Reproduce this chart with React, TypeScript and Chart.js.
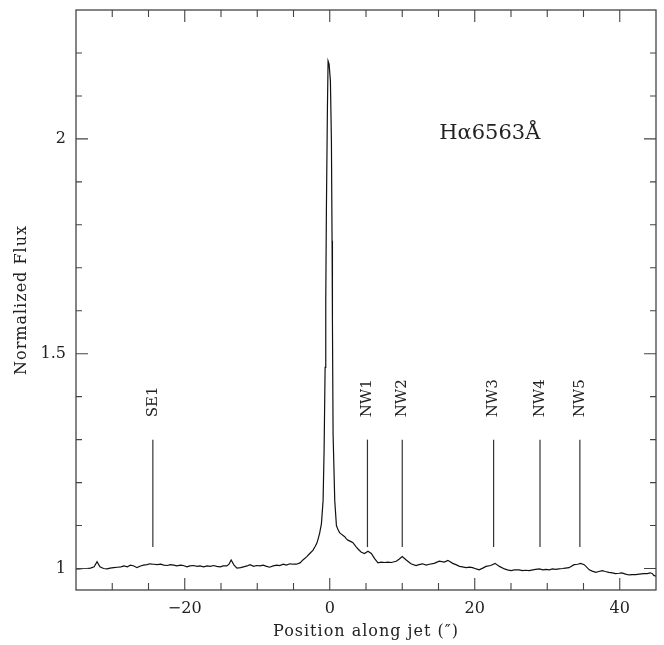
import React, { useEffect, useRef } from "react";
import { Chart, registerables } from "chart.js";

Chart.register(...registerables);

// Position along jet (arcsec)
const positions = [
  -35, -34.5, -34, -33.5, -33, -32.5, -32.1, -31.7, -31.2, -30.7,
  -30.3, -29.8, -29.3, -28.8, -28.4, -27.9, -27.5, -27.0, -26.6, -26.1,
  -25.7, -25.2, -24.8, -24.3, -23.8, -23.3, -22.9, -22.4, -22.0, -21.5,
  -21.1, -20.6, -20.2, -19.7, -19.3, -18.8, -18.3, -17.9, -17.4, -16.9,
  -16.5, -16.0, -15.6, -15.1, -14.7, -14.2, -13.9, -13.6, -13.2, -12.8,
  -12.3, -11.9, -11.4, -11.0, -10.5, -10.1, -9.6, -9.2, -8.7, -8.3,
  -7.8, -7.3, -6.9, -6.4, -6.0, -5.5, -5.0, -4.6, -4.1, -3.7,
  -3.2, -2.75, -2.3, -2.06, -1.8, -1.6, -1.4, -1.15, -0.92, -0.78,
  -0.64, -0.55, -0.46, -0.32, -0.23, -0.09, 0.09, 0.23, 0.32, 0.37,
  0.46, 0.69, 0.92, 1.15, 1.38, 1.6, 2.06, 2.3, 2.5, 3.0,
  3.2, 3.67, 4.1, 4.36, 4.8, 5.27, 5.73, 6.19, 6.65, 7.1,
  7.57, 8.0, 8.5, 9.17, 9.6, 10.0, 10.55, 11.2, 11.9, 12.3,
  12.8, 13.3, 13.75, 14.4, 15.1, 15.8, 16.3, 16.96, 17.4, 17.9,
  18.3, 18.8, 19.3, 19.7, 20.2, 20.6, 21.1, 21.55, 22.2, 22.8,
  23.4, 24.1, 24.5, 25.0, 25.5, 26.1, 26.6, 27.0, 27.5, 28.0,
  28.4, 28.9, 29.4, 29.8, 30.3, 30.7, 31.2, 31.6, 32.1, 32.5,
  33.0, 33.7, 34.2, 34.6, 35.1, 35.8, 36.2, 36.7, 37.1, 37.6,
  38.0, 38.5, 39.0, 39.4, 39.9, 40.3, 40.8, 41.3, 41.7, 42.2,
  42.7, 43.3, 43.8, 44.2, 44.5, 44.7, 45,
];

// Normalized H-alpha flux
const flux = [
  0.999, 0.999, 1.0, 1.0, 1.001, 1.004, 1.016, 1.004, 1.0, 0.999,
  1.001, 1.002, 1.003, 1.004, 1.006, 1.004, 1.008, 1.006, 1.002, 1.006,
  1.008, 1.009, 1.011, 1.01, 1.009, 1.01, 1.008, 1.007, 1.009, 1.008,
  1.006, 1.008, 1.007, 1.004, 1.006, 1.007, 1.005, 1.006, 1.004, 1.006,
  1.005, 1.007, 1.005, 1.004, 1.006, 1.006, 1.01, 1.02, 1.008, 1.001,
  1.002, 1.004, 1.006, 1.009, 1.005, 1.007, 1.006, 1.008, 1.005, 1.003,
  1.006, 1.008, 1.007, 1.01, 1.008, 1.011, 1.01, 1.01, 1.013, 1.02,
  1.027, 1.035, 1.043, 1.05, 1.058, 1.069, 1.082, 1.104, 1.158, 1.274,
  1.468, 1.623, 1.84, 2.073, 2.181, 2.174, 2.135, 1.995, 1.763, 1.577,
  1.313, 1.158, 1.1, 1.09, 1.083, 1.08, 1.074, 1.069, 1.066, 1.062,
  1.06, 1.05, 1.042, 1.038, 1.035, 1.04, 1.035, 1.023, 1.013, 1.015,
  1.014, 1.015, 1.014, 1.017, 1.022, 1.028, 1.02, 1.011, 1.007, 1.009,
  1.011, 1.008, 1.01, 1.012, 1.017, 1.015, 1.019, 1.012, 1.009, 1.005,
  1.004, 1.002, 1.003, 1.002, 0.999, 0.997, 1.001, 1.005, 1.007, 1.012,
  1.005, 0.999, 0.997, 0.995, 0.997, 0.997, 0.995, 0.996, 0.995, 0.997,
  0.998, 0.999, 0.997, 0.998, 0.997, 0.999, 0.998, 0.999, 1.0, 1.001,
  1.002, 1.009, 1.01, 1.012, 1.009, 0.997, 0.994, 0.991, 0.993, 0.995,
  0.993, 0.991, 0.99, 0.988, 0.989, 0.99, 0.987, 0.985, 0.986, 0.986,
  0.987, 0.988, 0.988, 0.99, 0.988, 0.984, 0.982,
];

// Knot markers
const knotNames = ["SE1", "NW1", "NW2", "NW3", "NW4", "NW5"];
const knotPositions = [-24.4, 5.2, 10.0, 22.6, 29.0, 34.5];
const knotLineRange = [1.05, 1.3];
const knotLabelBase = 1.352;

// Axes
const xRange = [-35, 45];
const yRange = [0.95, 2.3];
const xTickValues = [-20, 0, 20, 40];
const yTickValues = [1, 1.5, 2];
const xMinorStep = 5;
const yMinorStep = 0.1;

const lineLabel = "Hα6563Å";
const lineLabelPos = [15.1, 2.0];
const xTitle = "Position along jet (″)";
const yTitle = "Normalized Flux";

const FONT = "'DejaVu Serif', serif";
const TEXT = "#222";
const AXIS = "#444";

const framePlugin = {
  id: "frameAndLabels",
  afterDraw(chart: any) {
    const { ctx, chartArea } = chart;
    const xs = chart.scales.x;
    const ys = chart.scales.y;
    const { left, right, top, bottom } = chartArea;
    ctx.save();
    ctx.strokeStyle = AXIS;
    ctx.lineWidth = 1.3;
    ctx.strokeRect(left, top, right - left, bottom - top);
    ctx.lineWidth = 1.1;
    // x ticks
    const nx = Math.round((xRange[1] - xRange[0]) / xMinorStep);
    for (let i = 0; i <= nx; i++) {
      const v = xRange[0] + i * xMinorStep;
      if (v <= xRange[0] || v >= xRange[1]) continue;
      const major = xTickValues.some((t) => Math.abs(t - v) < 1e-6);
      const len = major ? 12 : 7;
      const px = xs.getPixelForValue(v);
      ctx.beginPath();
      ctx.moveTo(px, bottom);
      ctx.lineTo(px, bottom - len);
      ctx.moveTo(px, top);
      ctx.lineTo(px, top + len);
      ctx.stroke();
    }
    // y ticks
    const ny = Math.round((yRange[1] - 1.0) / yMinorStep);
    for (let i = 0; i <= ny; i++) {
      const v = 1.0 + i * yMinorStep;
      if (v >= yRange[1] - 1e-6) continue;
      const major = yTickValues.some((t) => Math.abs(t - v) < 1e-6);
      const len = major ? 12 : 6;
      const py = ys.getPixelForValue(v);
      ctx.beginPath();
      ctx.moveTo(left, py);
      ctx.lineTo(left + len, py);
      ctx.moveTo(right, py);
      ctx.lineTo(right - len, py);
      ctx.stroke();
    }
    ctx.restore();

    // knot labels
    ctx.save();
    ctx.fillStyle = TEXT;
    ctx.font = `15px ${FONT}`;
    ctx.textAlign = "left";
    ctx.textBaseline = "middle";
    knotNames.forEach((name, i) => {
      const px = xs.getPixelForValue(knotPositions[i]);
      const py = ys.getPixelForValue(knotLabelBase);
      ctx.save();
      ctx.translate(px, py);
      ctx.rotate(-Math.PI / 2);
      ctx.fillText(name, 0, 0);
      ctx.restore();
    });
    ctx.restore();

    // line label
    ctx.save();
    ctx.fillStyle = TEXT;
    ctx.font = `21px ${FONT}`;
    ctx.textAlign = "left";
    ctx.textBaseline = "alphabetic";
    ctx.fillText(lineLabel, xs.getPixelForValue(lineLabelPos[0]), ys.getPixelForValue(lineLabelPos[1]));
    ctx.restore();

    // axis titles
    ctx.save();
    ctx.fillStyle = TEXT;
    ctx.font = `16px ${FONT}`;
    ctx.textAlign = "center";
    ctx.textBaseline = "middle";
    (ctx as any).letterSpacing = "1px";
    ctx.fillText(xTitle, (left + right) / 2, 632);
    ctx.translate(22, (top + bottom) / 2);
    ctx.rotate(-Math.PI / 2);
    ctx.fillText(yTitle, 0, 0);
    ctx.restore();
  },
};

export default function App() {
  const ref = useRef<HTMLCanvasElement | null>(null);
  useEffect(() => {
    if (!ref.current) return;
    const knotSets = knotPositions.map((p) => ({
      data: [
        { x: p, y: knotLineRange[0] },
        { x: p, y: knotLineRange[1] },
      ],
      borderColor: "#333",
      borderWidth: 1.2,
      pointRadius: 0,
      tension: 0,
    }));
    const chart = new Chart(ref.current, {
      type: "line",
      data: {
        datasets: [
          {
            data: positions.map((x, i) => ({ x, y: flux[i] })),
            borderColor: "#111",
            borderWidth: 1.2,
            pointRadius: 0,
            tension: 0,
          },
          ...knotSets,
        ] as any,
      },
      options: {
        responsive: false,
        animation: false,
        layout: { padding: { left: 0, right: 8, top: 10, bottom: 0 } },
        plugins: { legend: { display: false }, tooltip: { enabled: false } },
        scales: {
          x: {
            type: "linear",
            min: xRange[0],
            max: xRange[1],
            grid: { display: false, drawTicks: false },
            border: { display: false },
            afterBuildTicks: (s: any) => {
              s.ticks = xTickValues.map((v) => ({ value: v }));
            },
            afterFit: (s: any) => {
              s.height = 55;
              s.paddingLeft = 0;
              s.paddingRight = 0;
            },
            ticks: {
              color: TEXT,
              font: { family: FONT, size: 16 },
              padding: 9,
              maxRotation: 0,
              autoSkip: false,
              callback: (v: any) => (Number(v) < 0 ? "−" + Math.abs(Number(v)) : String(v)),
            },
          },
          y: {
            type: "linear",
            min: yRange[0],
            max: yRange[1],
            grid: { display: false, drawTicks: false },
            border: { display: false },
            afterBuildTicks: (s: any) => {
              s.ticks = yTickValues.map((v) => ({ value: v }));
            },
            afterFit: (s: any) => {
              s.width = 76;
              s.paddingTop = 0;
              s.paddingBottom = 0;
            },
            ticks: {
              color: TEXT,
              font: { family: FONT, size: 16 },
              padding: 10,
              autoSkip: false,
              callback: (v: any) => String(v),
            },
          },
        },
      } as any,
      plugins: [framePlugin],
    });
    return () => chart.destroy();
  }, []);
  return (
    <div style={{ position: "fixed", left: 0, top: 0, width: 664, height: 645, background: "#fff" }}>
      <canvas ref={ref} width={664} height={645} style={{ width: 664, height: 645, display: "block" }} />
    </div>
  );
}
